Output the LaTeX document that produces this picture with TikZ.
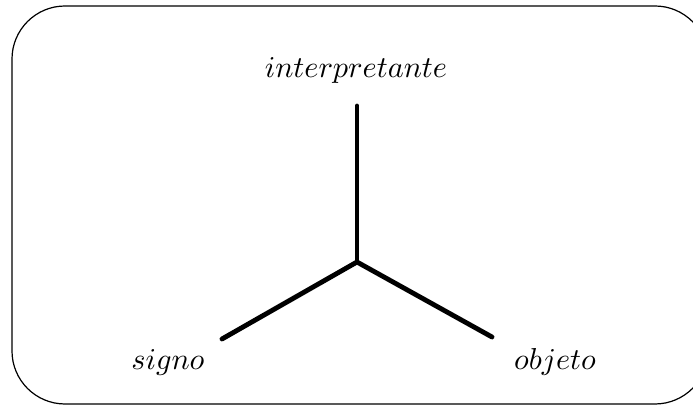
\documentclass[tikz,border=0pt]{standalone}
\begin{document}
\begin{tikzpicture}[x=0.33pt,y=-0.33pt,
  frame/.style={draw=black,line width=0.4pt,rounded corners=17.5pt},
  arm/.style={draw=black,line width=1.6pt,line cap=round},
  lbl/.style={inner sep=0pt,font=\normalsize}]
\useasboundingbox (0,0) rectangle (693,405);
\clip (0,0) rectangle (693,405);
\draw[frame] (12,6) rectangle (708,404);
\coordinate (c) at (357,262);
\coordinate (top) at (357,106);
\coordinate (left) at (222,339);
\coordinate (right) at (492,337);
\node[lbl] (interp) at (356,70) {$interpretante$};
\node[lbl] (signo) at (168,362) {$signo$};
\node[lbl] (objeto) at (555,362) {$objeto$};
\draw[arm] (top) -- (c);
\draw[arm] (left) -- (c) -- (right);
\end{tikzpicture}
\end{document}
